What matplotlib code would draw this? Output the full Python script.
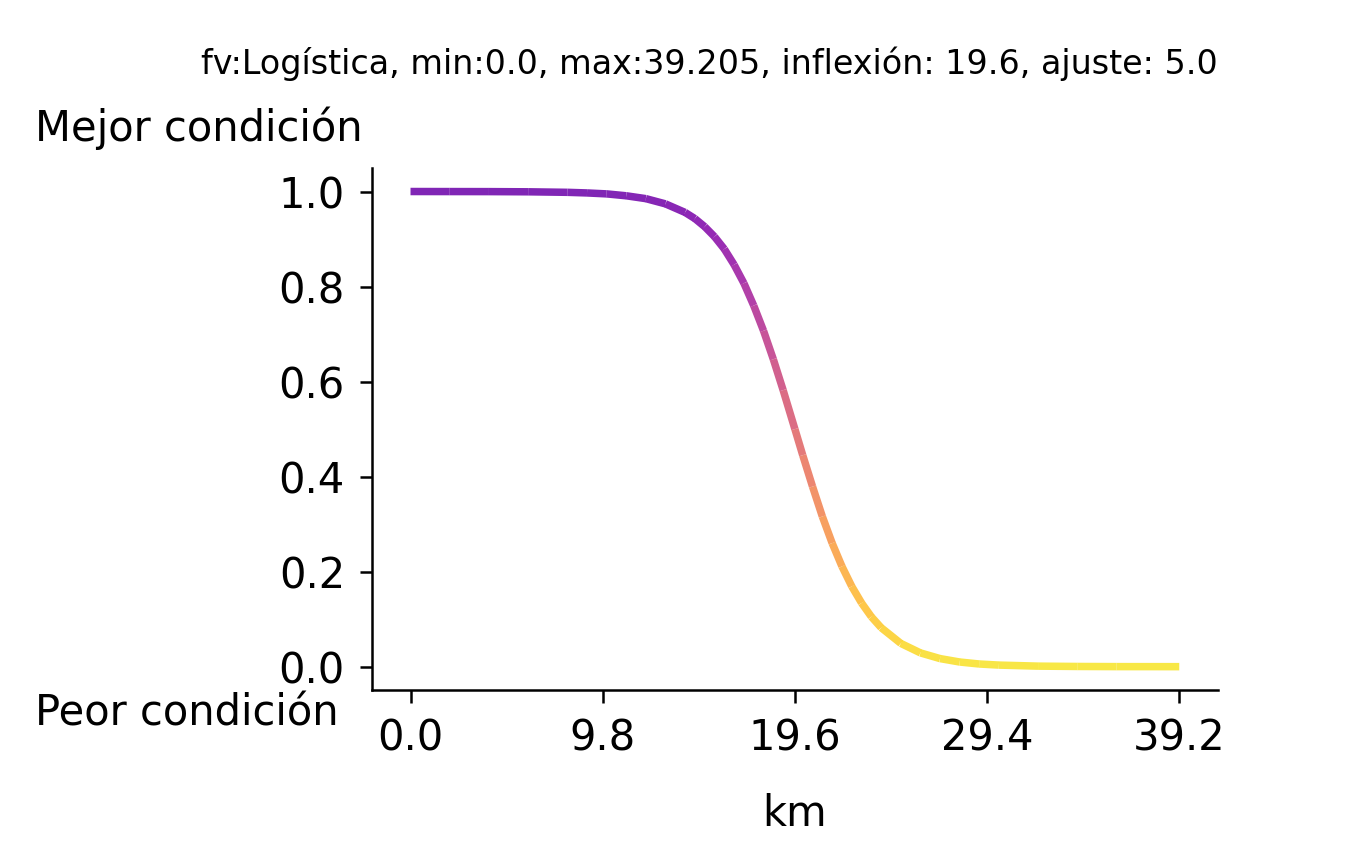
import numpy as np
import matplotlib
matplotlib.use("Agg")
import matplotlib.pyplot as plt
from matplotlib.collections import LineCollection

km = [0, 2, 4, 6, 8, 9, 10, 11, 12, 13, 14, 14.5, 15, 15.5, 16, 16.5, 17, 17.5, 18, 18.5,
      19, 19.6, 20, 20.5, 21, 21.5, 22, 22.5, 23, 23.5, 24, 25, 26, 27, 28, 29, 30, 32, 34, 36, 39.2]
valor = [1.0, 0.9999, 0.9998, 0.9994, 0.9983, 0.997, 0.995, 0.991, 0.985, 0.974, 0.956, 0.943,
         0.926, 0.905, 0.879, 0.846, 0.807, 0.760, 0.707, 0.647, 0.582, 0.5, 0.445, 0.379, 0.316,
         0.260, 0.211, 0.169, 0.134, 0.105, 0.082, 0.049, 0.029, 0.017, 0.0098, 0.0056, 0.0033,
         0.0011, 0.0004, 0.0001, 0.0]
xticks = [0.0, 9.8, 19.6, 29.4, 39.2]
yticks = [0.0, 0.2, 0.4, 0.6, 0.8, 1.0]
titulo = "fv:Logística, min:0.0, max:39.205, inflexión: 19.6, ajuste: 5.0"

fig = plt.figure(figsize=(4.51, 2.81), dpi=300)
ax = fig.add_axes([0.275, 0.181, 0.625, 0.62])

x = np.array(km); y = np.array(valor)
pts = np.column_stack([x, y]).reshape(-1, 1, 2)
segs = np.concatenate([pts[:-1], pts[1:]], axis=1)
ymid = (y[:-1] + y[1:]) / 2
cols = plt.cm.plasma(0.2 + 0.75 * (1 - ymid))
cols[:, 3] = 0.85
lc = LineCollection(segs, colors=cols, linewidth=1.8, capstyle='butt')
ax.add_collection(lc)

ax.set_xlim(-1.96, 41.16)
ax.set_ylim(-0.05, 1.05)
ax.set_xticks(xticks)
ax.set_xticklabels([f"{t:.1f}" for t in xticks])
ax.set_yticks(yticks)
ax.set_yticklabels([f"{t:.1f}" for t in yticks])
ax.tick_params(labelsize=10, width=0.6, length=3)
for s in ['top', 'right']:
    ax.spines[s].set_visible(False)
for s in ['left', 'bottom']:
    ax.spines[s].set_linewidth(0.6)
ax.set_xlabel("km", fontsize=10, labelpad=8)
fig.text(0.900, 0.924, titulo, fontsize=8, ha='right', va='center')
fig.text(0.026, 0.848, "Mejor condición", fontsize=10, ha='left', va='center')
fig.text(0.026, 0.154, "Peor condición", fontsize=10, ha='left', va='center')
fig.savefig("out.png", dpi=300)
